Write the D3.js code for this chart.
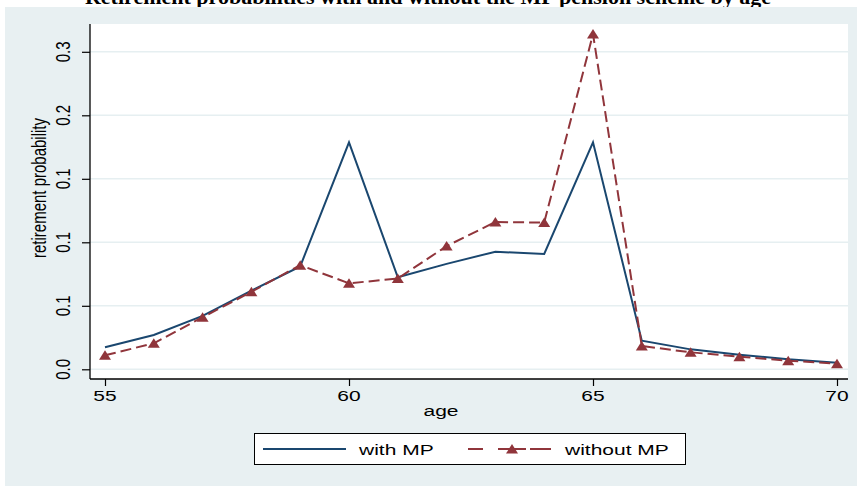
<!DOCTYPE html>
<html>
<head>
  <meta charset="utf-8">
  <title>retirement probability by age</title>
  <script src="https://d3js.org/d3.v7.min.js"></script>
  <style>
    body { margin: 0; background: #fff; }
    text { font-family: "Liberation Sans", Arial, sans-serif; }
  </style>
</head>
<body>
<svg width="857" height="486" id="graph"></svg>
<script>
// values
var ages = [55, 56, 57, 58, 59, 60, 61, 62, 63, 64, 65, 66, 67, 68, 69, 70];
var withMP = [0.0173, 0.027, 0.042, 0.062, 0.081, 0.1787, 0.0725, 0.083, 0.0926, 0.0908, 0.1787, 0.0225, 0.0157, 0.0115, 0.0079, 0.0052];
var withoutMP = [0.011, 0.0205, 0.041, 0.061, 0.082, 0.0677, 0.0715, 0.097, 0.116, 0.1155, 0.264, 0.0183, 0.0134, 0.0099, 0.0068, 0.0044];
var yTicks = [0, 0.05, 0.1, 0.15, 0.2, 0.25];
var yTickLabels = ["0.0", "0.1", "0.1", "0.1", "0.2", "0.3"];
var xTicks = [55, 60, 65, 70];
var seriesNames = ["with MP", "without MP"];

var navy = "#1a476f", maroon = "#90353b";
var sx = 1.4;   // the original picture is stretched sideways

var svg = d3.select("#graph");

// plot region
var plot = {left: 90, right: 848, top: 24, bottom: 379};

var x = d3.scaleLinear().domain([55, 70]).range([105, 837]);
var y = d3.scaleLinear().domain([0, 0.25]).range([369.3, 51.8]);

// title, cut off at the very top like in the source picture
svg.append("text")
    .attr("x", 428).attr("y", 4)
    .attr("text-anchor", "middle")
    .style("font-family", "'Liberation Serif', serif")
    .style("font-weight", "bold")
    .style("font-size", "22px")
    .text("Retirement probabilities with and without the MP pension scheme by age");

// graph region
svg.append("rect")
    .attr("x", 5).attr("y", 7).attr("width", 852).attr("height", 479)
    .attr("fill", "#e8f0f2");

svg.append("rect")
    .attr("x", plot.left).attr("y", plot.top)
    .attr("width", plot.right - plot.left).attr("height", plot.bottom - plot.top)
    .attr("fill", "#fff");

// grid lines
svg.selectAll(".grid")
    .data(yTicks)
  .enter().append("line")
    .attr("class", "grid")
    .attr("x1", plot.left).attr("x2", plot.right)
    .attr("y1", function(d) { return y(d); })
    .attr("y2", function(d) { return y(d); })
    .attr("stroke", "#e6eff1")
    .attr("stroke-width", 1.5);

// y axis
var yAxis = svg.append("g")
    .attr("transform", "translate(" + plot.left + ",0)")
    .call(d3.axisLeft(y).tickValues(yTicks).tickSize(8).tickFormat(""));
yAxis.select(".domain").attr("d", "M0," + plot.top + "V" + plot.bottom).attr("stroke-width", 1.3);
yAxis.selectAll(".tick line").attr("stroke-width", 1.2);

svg.selectAll(".ylab")
    .data(yTicks)
  .enter().append("text")
    .attr("class", "ylab")
    .attr("transform", function(d) { return "translate(70," + y(d) + ") scale(" + sx + ",1) rotate(-90)"; })
    .attr("text-anchor", "middle")
    .style("font-size", "15px")
    .text(function(d, i) { return yTickLabels[i]; });

svg.append("text")
    .attr("transform", "translate(46,188) scale(" + sx + ",1) rotate(-90)")
    .attr("text-anchor", "middle")
    .style("font-size", "15px")
    .text("retirement probability");

// x axis
var xAxis = svg.append("g")
    .attr("transform", "translate(0," + plot.bottom + ")")
    .call(d3.axisBottom(x).tickValues(xTicks).tickSize(7).tickFormat(""));
xAxis.select(".domain").attr("d", "M" + plot.left + ",0H" + plot.right).attr("stroke-width", 1.3);
xAxis.selectAll(".tick line").attr("stroke-width", 1.2);

svg.selectAll(".xlab")
    .data(xTicks)
  .enter().append("text")
    .attr("class", "xlab")
    .attr("transform", function(d) { return "translate(" + x(d) + ",401) scale(" + sx + ",1)"; })
    .attr("text-anchor", "middle")
    .style("font-size", "15px")
    .text(function(d) { return d; });

svg.append("text")
    .attr("transform", "translate(441,416) scale(" + sx + ",1)")
    .attr("text-anchor", "middle")
    .style("font-size", "15px")
    .text("age");

// lines
var line = d3.line()
    .x(function(d, i) { return x(ages[i]); })
    .y(function(d) { return y(d); });

svg.append("path")
    .datum(withMP)
    .attr("d", line)
    .attr("fill", "none")
    .attr("stroke", navy)
    .attr("stroke-width", 2);

svg.append("path")
    .datum(withoutMP)
    .attr("d", line)
    .attr("fill", "none")
    .attr("stroke", maroon)
    .attr("stroke-width", 2)
    .attr("stroke-dasharray", "11,5");

var tri = "M-6,4.5L6,4.5L0,-5Z";
svg.selectAll(".tri")
    .data(withoutMP)
  .enter().append("path")
    .attr("class", "tri")
    .attr("d", tri)
    .attr("transform", function(d, i) { return "translate(" + x(ages[i]) + "," + y(d) + ")"; })
    .attr("fill", maroon);

// legend
var lg = svg.append("g");
lg.append("rect")
    .attr("x", 254.5).attr("y", 433.5).attr("width", 431).attr("height", 31)
    .attr("fill", "#fff").attr("stroke", "#000").attr("stroke-width", 1);
lg.append("line")
    .attr("x1", 263).attr("x2", 346).attr("y1", 449).attr("y2", 449)
    .attr("stroke", navy).attr("stroke-width", 2);
lg.append("line")
    .attr("x1", 468).attr("x2", 551).attr("y1", 449).attr("y2", 449)
    .attr("stroke", maroon).attr("stroke-width", 2)
    .attr("stroke-dasharray", "15,15,28,4,30");
lg.append("path")
    .attr("d", tri)
    .attr("transform", "translate(512,449)")
    .attr("fill", maroon);
lg.selectAll(".legtext")
    .data(seriesNames)
  .enter().append("text")
    .attr("class", "legtext")
    .attr("transform", function(d, i) { return "translate(" + (i == 0 ? 359 : 565) + ",455) scale(" + sx + ",1)"; })
    .style("font-size", "15px")
    .text(function(d) { return d; });
</script>
</body>
</html>
